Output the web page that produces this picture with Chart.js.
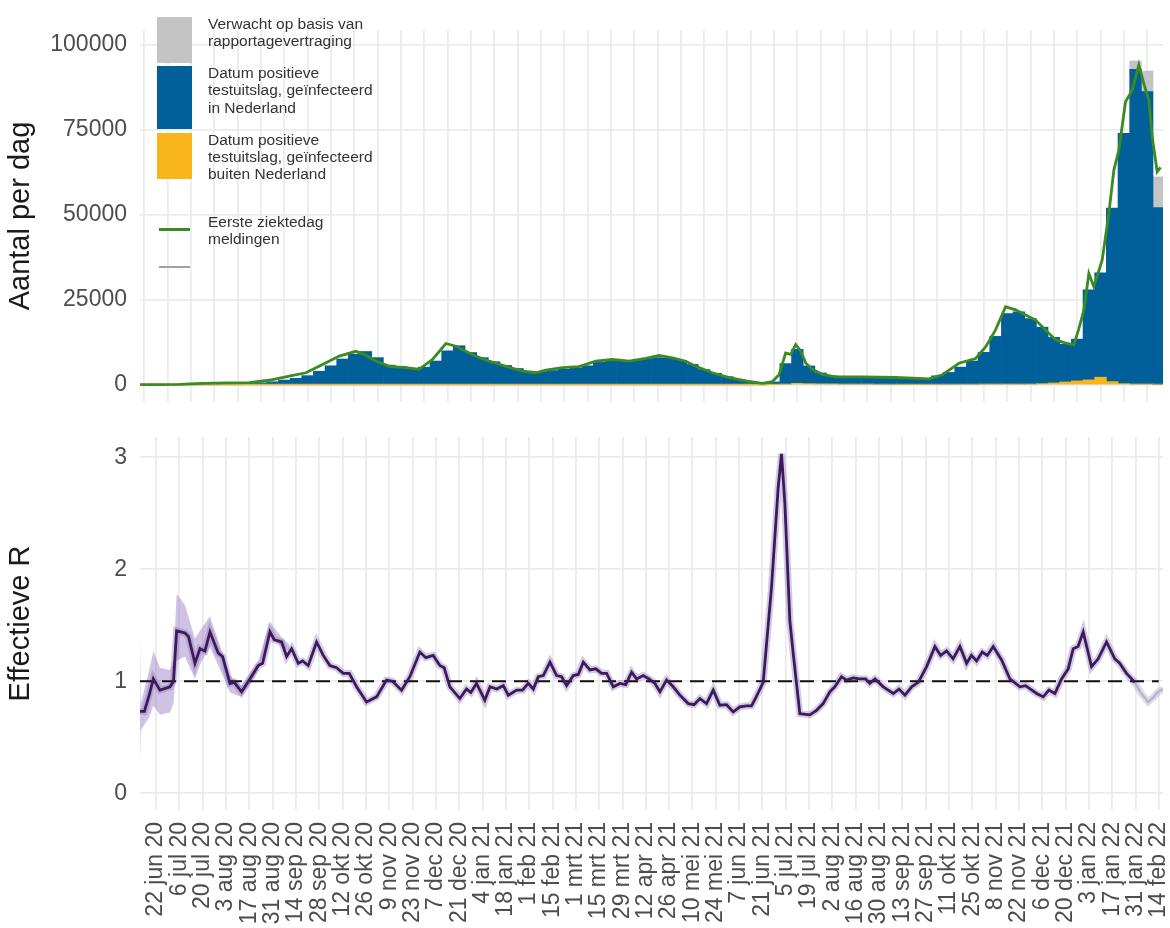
<!DOCTYPE html>
<html>
<head>
<meta charset="utf-8">
<script src="https://cdn.jsdelivr.net/npm/chart.js@4.4.1/dist/chart.umd.min.js"></script>
<style>
  body { margin: 0; background: #fff; font-family: "Liberation Sans", Arial, sans-serif; }
  #wrap { position: relative; width: 1170px; height: 928px; overflow: hidden; }
  #chartTop { position: absolute; left: 0; top: 0; }
  #chartBottom { position: absolute; left: 0; top: 410px; }
  .key { position: absolute; left: 157px; width: 35px; }
  .keyline { position: absolute; left: 159px; width: 31px; }
  .ltext { position: absolute; left: 208px; font-size: 15.5px; line-height: 17.3px; color: #333; white-space: nowrap; }
</style>
</head>
<body>
<div id="wrap">
  <canvas id="chartTop" width="1170" height="410"></canvas>
  <canvas id="chartBottom" width="1170" height="518"></canvas>

  <!-- legend of the top panel -->
  <div class="key" style="top:17px;height:46px;background:#c4c4c4"></div>
  <div class="key" style="top:66px;height:63px;background:#01609a"></div>
  <div class="key" style="top:133px;height:46px;background:#f9b51c"></div>
  <div class="keyline" style="top:228px;height:3px;background:#3b8a22"></div>
  <div class="keyline" style="top:266px;height:2px;background:#a0a0a0"></div>
  <div class="ltext" style="top:14.7px">Verwacht op basis van<br>rapportagevertraging</div>
  <div class="ltext" style="top:64px">Datum positieve<br>testuitslag, geïnfecteerd<br>in Nederland</div>
  <div class="ltext" style="top:130.7px">Datum positieve<br>testuitslag, geïnfecteerd<br>buiten Nederland</div>
  <div class="ltext" style="top:213px">Eerste ziektedag<br>meldingen</div>
</div>

<script>
// ==========================
// Data (day 0 = 22 jun 2020)
// ==========================

// x tick labels, one every 14 days
const tickLabels = [
  "22 jun 20","6 jul 20","20 jul 20","3 aug 20","17 aug 20","31 aug 20","14 sep 20","28 sep 20",
  "12 okt 20","26 okt 20","9 nov 20","23 nov 20","7 dec 20","21 dec 20","4 jan 21","18 jan 21",
  "1 feb 21","15 feb 21","1 mrt 21","15 mrt 21","29 mrt 21","12 apr 21","26 apr 21","10 mei 21",
  "24 mei 21","7 jun 21","21 jun 21","5 jul 21","19 jul 21","2 aug 21","16 aug 21","30 aug 21",
  "13 sep 21","27 sep 21","11 okt 21","25 okt 21","8 nov 21","22 nov 21","6 dec 21","20 dec 21",
  "3 jan 22","17 jan 22","31 jan 22","14 feb 22"
];
const tickStep = 14;
const casesTicks = [0, 25000, 50000, 75000, 100000];
const rTicks = [0, 1, 2, 3];

// weekly bins (centre day of each bin)
const binDays = [];
for (let i = 0; i < 88; i++) binDays.push(-7 + 7 * i);

// positive tests, infected in the Netherlands (per day, weekly bins)
const casesNL = [
  150, 100, 100, 150, 300, 450, 500, 550, 500, 500,
  600, 900, 1400, 1900, 2700, 4000, 5600, 7600, 9000, 9800,
  8000, 5800, 5300, 4900, 5200, 7000, 10000, 11500, 9500, 8000,
  6800, 5700, 4800, 4000, 3800, 4200, 4600, 4900, 5600, 6600,
  7100, 7000, 7200, 7600, 8000, 7800, 7200, 6000, 4500, 3400,
  2400, 1500, 900, 600, 800, 6000, 10000, 5200, 3200, 2300,
  2000, 2000, 2000, 1950, 1800, 1650, 1550, 1800, 2500, 3500,
  5000, 6800, 9300, 14000, 20700, 21200, 19200, 16600, 13400, 11100,
  12300, 26500, 30700, 51000, 73600, 92500, 86000, 52000
];
// positive tests, infected abroad
const casesAbroad = [
  50, 50, 50, 50, 50, 50, 50, 50, 50, 50,
  50, 50, 50, 50, 50, 50, 50, 50, 50, 50,
  50, 50, 50, 50, 50, 50, 50, 50, 50, 50,
  50, 50, 50, 50, 50, 50, 50, 50, 50, 50,
  50, 50, 50, 50, 50, 50, 50, 50, 50, 50,
  50, 50, 50, 50, 100, 300, 500, 400, 350, 350,
  300, 300, 300, 250, 200, 150, 150, 150, 200, 200,
  250, 250, 300, 300, 300, 300, 300, 400, 600, 900,
  1200, 1500, 2300, 1000, 400, 300, 300, 200
];
// expected on top because of reporting delay
const expectedDays  = [588, 595, 602];
const expectedCases = [2500, 6000, 9000];

// first day of illness
const onsetDays = [
  -9.6, 0, 14, 28, 42, 56, 63, 70, 80, 90,
  100, 110, 120, 126, 130, 140, 150, 158, 166, 174,
  180, 186, 190, 200, 210, 220, 228, 234, 244, 254,
  264, 274, 284, 294, 302, 310, 318, 324, 334, 344,
  354, 364, 370, 374, 378, 381, 384, 387, 390, 394,
  400, 408, 424, 444, 464, 472, 482, 492, 498, 504,
  510, 516, 522, 528, 534, 540, 546, 551, 554, 557,
  560, 563, 568, 572, 575, 578, 582, 586, 590, 593,
  596, 598, 601, 603
];
const onsetCases = [
  100, 100, 200, 500, 600, 700, 1100, 1600, 2600, 3600,
  6000, 8500, 9900, 8800, 7500, 5500, 5100, 4600, 7500, 12200,
  11400, 9900, 8900, 7000, 5500, 4100, 3600, 4400, 5100, 5400,
  7000, 7500, 7000, 7800, 8700, 8000, 7000, 5500, 3600, 2200,
  1200, 500, 1000, 3000, 9400, 9000, 11900, 10000, 6500, 4600,
  3100, 2400, 2400, 2200, 1800, 3000, 6400, 7800, 11200, 16200,
  23000, 22100, 20600, 19100, 16200, 13300, 12300, 11800, 16600, 22000,
  32800, 28900, 36800, 50500, 63200, 69100, 83300, 86700, 94100, 88600,
  83800, 73000, 62700, 64000
];

// effective reproduction number
const rDays = [
  -9.6, -7, -4, -1.6, 2.4, 8.4, 10.5, 12.4, 17.4, 19.5,
  23.4, 26.4, 29.4, 32.4, 37.4, 40, 44.4, 47, 51.4, 56.4,
  61.4, 64, 68.4, 71, 75.4, 78.4, 81.4, 85.4, 88, 91.4,
  96.4, 100.4, 104.4, 108.4, 112.4, 116, 120.4, 126.4, 132.4, 138.4,
  142, 147.4, 152.4, 158.4, 162, 166.4, 170.4, 173, 176.4, 182.4,
  186.4, 189, 192.4, 197.4, 200.5, 204.5, 208.5, 211.5, 216.5, 220,
  223.5, 226.5, 229.5, 232.5, 236.5, 240.5, 243.5, 246.5, 250.5, 253.5,
  256.5, 260.5, 264, 267.5, 270.5, 274.5, 278.5, 282, 285.5, 288.5,
  292.5, 296, 299.5, 302.5, 306.5, 310.5, 314.5, 319.5, 323, 326.5,
  330.5, 334.5, 338.5, 342.5, 346.5, 350.5, 354.5, 357.5, 360, 364.5,
  369.5, 373.5, 375.5, 377.5, 380.5, 382.5, 384.5, 386.5, 392.5, 396.5,
  400.5, 404.5, 407.5, 411.5, 414.5, 418.5, 422, 426, 428.5, 431.6,
  436.6, 442.6, 446, 449.6, 453.6, 457.6, 462.6, 467.6, 471, 474.6,
  478.5, 482.6, 486.6, 489.5, 492.6, 496, 499, 502.6, 507.6, 512.6,
  518.6, 522, 528.6, 532.6, 536, 539.6, 543.6, 547.6, 550.6, 553.5,
  556.6, 561.6, 565.6, 570.6, 575.6, 578.5, 582.6, 587.6
];
const rValues = [
  0.73, 0.73, 0.88, 1.02, 0.92, 0.95, 1.0, 1.45, 1.43, 1.40,
  1.16, 1.29, 1.27, 1.44, 1.25, 1.22, 0.98, 0.99, 0.905, 1.02,
  1.14, 1.16, 1.44, 1.37, 1.35, 1.22, 1.29, 1.16, 1.18, 1.14,
  1.35, 1.23, 1.14, 1.12, 1.07, 1.07, 0.95, 0.815, 0.86, 1.01,
  1.0, 0.92, 1.04, 1.26, 1.21, 1.23, 1.14, 1.12, 0.95, 0.845,
  0.93, 0.9, 0.98, 0.83, 0.95, 0.93, 0.96, 0.875, 0.92, 0.92,
  0.98, 0.93, 1.04, 1.05, 1.17, 1.05, 1.04, 0.96, 1.05, 1.06,
  1.17, 1.10, 1.11, 1.07, 1.07, 0.95, 0.98, 0.97, 1.08, 1.02,
  1.05, 1.02, 0.98, 0.905, 1.01, 0.95, 0.875, 0.80, 0.79, 0.845,
  0.80, 0.92, 0.785, 0.79, 0.726, 0.77, 0.78, 0.78, 0.85, 0.99,
  1.84, 2.73, 3.03, 2.59, 1.54, 1.25, 0.98, 0.71, 0.70, 0.74,
  0.80, 0.905, 0.95, 1.04, 1.01, 1.03, 1.02, 1.02, 0.98, 1.02,
  0.95, 0.89, 0.93, 0.875, 0.95, 0.99, 1.13, 1.31, 1.23, 1.27,
  1.20, 1.31, 1.16, 1.23, 1.18, 1.26, 1.23, 1.31, 1.19, 1.02,
  0.95, 0.96, 0.89, 0.86, 0.92, 0.89, 1.02, 1.11, 1.29, 1.31,
  1.44, 1.13, 1.20, 1.35, 1.20, 1.16, 1.07, 0.99
];
// last days, still uncertain (drawn lighter)
const rTailDays   = [587.6, 591, 595.6, 599, 601.6, 604.5];
const rTailValues = [0.99, 0.90, 0.815, 0.86, 0.905, 0.93];

// wide confidence band at the start
const bandDays = [-9.6, -9.2, -4, -1.6, 2.4, 8.4, 10.5, 12.4, 17.4, 23.4, 26.4, 32.4, 37.4, 44.4, 51.4, 56.4, 61.4, 68.4, 75.4, 80];
const bandLow  = [0.25, 0.56, 0.68, 0.78, 0.70, 0.72, 0.80, 1.18, 1.22, 1.02, 1.15, 1.30, 1.14, 0.90, 0.86, 0.97, 1.10, 1.40, 1.31, 1.27];
const bandHigh = [1.48, 0.80, 1.10, 1.27, 1.12, 1.10, 1.20, 1.78, 1.68, 1.38, 1.45, 1.58, 1.36, 1.05, 0.96, 1.07, 1.18, 1.53, 1.39, 1.33];

// reference line R = 1
const refDays = [-9.6, 602];
const refValues = [1, 1];

// ==========================
// Chart setup
// ==========================
const FONT = '"Liberation Sans", Arial, sans-serif';
Chart.defaults.font.family = FONT;
const GRID = { color: '#ebebeb', lineWidth: 1.8, drawTicks: false };

function pts(xs, ys) {
  return xs.map((x, i) => ({ x: x, y: ys[i] }));
}

function xAxis(showLabels) {
  return {
    type: 'linear', min: -9.6, max: 604.5, offset: false, stacked: true,
    grid: GRID, border: { display: false },
    afterBuildTicks: s => { s.ticks = tickLabels.map((_, i) => ({ value: i * tickStep })); },
    ticks: {
      display: showLabels, autoSkip: false, minRotation: 90, maxRotation: 90, padding: 12,
      color: '#4d4d4d', font: { size: 23 },
      callback: v => tickLabels[Math.round(v / tickStep)]
    },
    afterFit: s => { s.height = showLabels ? 118 : 8; s.paddingLeft = 0; s.paddingRight = 0; }
  };
}

function yAxis(ticks, title, min, max, stacked) {
  return {
    min: min, max: max, stacked: stacked,
    grid: GRID, border: { display: false },
    afterBuildTicks: s => { s.ticks = ticks.map(v => ({ value: v })); },
    ticks: { color: '#4d4d4d', font: { size: 23 }, padding: 13, callback: v => String(v) },
    title: { display: true, text: title, color: '#1a1a1a', font: { size: 29 }, padding: { top: 4, bottom: 0 } },
    afterFit: s => { s.width = 140; s.paddingTop = 0; s.paddingBottom = 0; }
  };
}

const common = {
  responsive: false, animation: false, devicePixelRatio: 1,
  plugins: { legend: { display: false }, tooltip: { enabled: false } },
  elements: { point: { radius: 0 }, line: { tension: 0 } }
};

// TOP: cases per day (stacked bottom-up: abroad, Netherlands, expected)
new Chart(document.getElementById('chartTop').getContext('2d'), {
  type: 'bar',
  data: {
    datasets: [
      { type: 'line', data: pts(onsetDays, onsetCases), borderColor: '#3b8a22', borderWidth: 2.8,
        pointRadius: 0, fill: false, stack: 'onset', order: 0 },
      { data: pts(binDays, casesAbroad), backgroundColor: '#f9b51c', stack: 'bars', order: 1,
        barPercentage: 1, categoryPercentage: 1, borderWidth: 0 },
      { data: pts(binDays, casesNL), backgroundColor: '#01609a', stack: 'bars', order: 2,
        barPercentage: 1, categoryPercentage: 1, borderWidth: 0 },
      { data: pts(expectedDays, expectedCases), backgroundColor: '#c4c4c4', stack: 'bars', order: 3,
        barPercentage: 1, categoryPercentage: 1, borderWidth: 0 }
    ]
  },
  options: Object.assign({}, common, {
    layout: { padding: { top: 30, right: 7, left: 0, bottom: 0 } },
    scales: {
      x: xAxis(false),
      y: yAxis(casesTicks, 'Aantal per dag', -5000, 104400, true)
    }
  })
});

// BOTTOM: effective R
new Chart(document.getElementById('chartBottom').getContext('2d'), {
  type: 'line',
  data: {
    datasets: [
      { data: pts(bandDays, bandLow), borderWidth: 0, fill: false, order: 6 },
      { data: pts(bandDays, bandHigh), borderWidth: 0, fill: '-1', backgroundColor: 'rgba(150,120,190,0.45)', order: 5 },
      { data: pts(rDays, rValues), borderColor: 'rgba(150,120,190,0.4)', borderWidth: 7, order: 4 },
      { data: pts(rTailDays, rTailValues), borderColor: 'rgba(175,165,205,0.4)', borderWidth: 7, order: 4 },
      { data: pts(rTailDays, rTailValues), borderColor: '#b9b2c9', borderWidth: 2.4, order: 3 },
      { data: pts(refDays, refValues), borderColor: '#111', borderWidth: 2, borderDash: [14, 8], order: 1 },
      { data: pts(rDays, rValues), borderColor: '#3b1c5a', borderWidth: 2.8, order: 0 }
    ]
  },
  options: Object.assign({}, common, {
    layout: { padding: { top: 27, right: 7, left: 0, bottom: 0 } },
    scales: {
      x: xAxis(true),
      y: yAxis(rTicks, 'Effectieve R', -0.15, 3.18, false)
    }
  })
});
</script>
</body>
</html>
